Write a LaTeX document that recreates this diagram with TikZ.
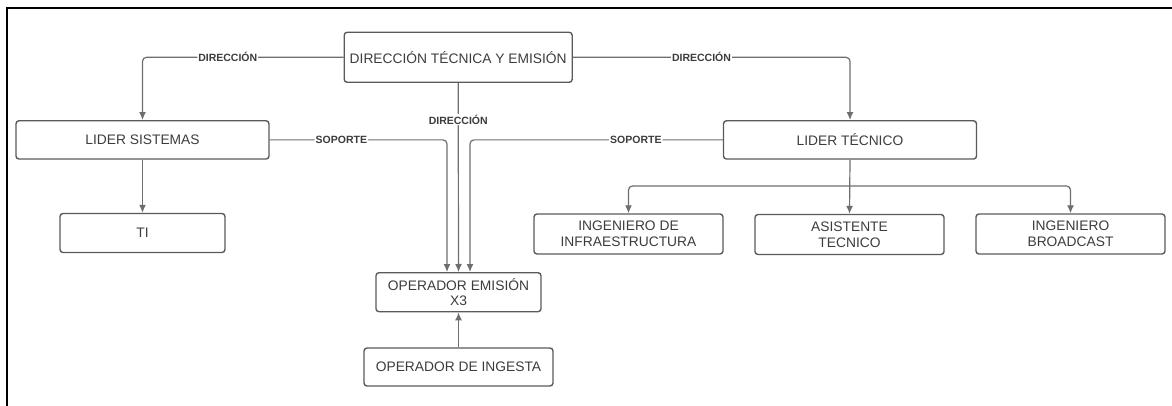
\documentclass[tikz,border=0pt]{standalone}
\usepackage{fontspec}
\setmainfont{Liberation Sans}
\usetikzlibrary{arrows.meta}

\definecolor{boxgray}{HTML}{5A5A5A}
\definecolor{linegray}{HTML}{6E6E6E}
\definecolor{textgray}{HTML}{3C3C3C}

\begin{document}
\begin{tikzpicture}[x=1pt, y=-1pt,
	box/.style={draw=boxgray, line width=1.4pt, rounded corners=3pt, rectangle,
		text=textgray, align=center, inner sep=0pt,
		font=\fontsize{13.8}{15.7}\selectfont},
	conn/.style={draw=linegray, line width=1.2pt, rounded corners=4pt, ->,
		>={Latex[length=8pt,width=7pt]}},
	lbl/.style={fill=white, text=textgray, inner sep=1pt,
		font=\fontsize{10.5}{12}\selectfont\bfseries}]
	\def \wide {189pt}
	\def \narrow {165pt}
	\def \tall {39pt}

	\useasboundingbox (0,0) rectangle (1172,406);
	\draw[line width=2pt] (7.3,406) -- (7.3,8.3) -- (1172,8.3);

	\node[box, minimum width=228pt, minimum height=50pt] (direccion) at (458.2,57.3)
		{DIRECCIÓN TÉCNICA Y EMISIÓN};
	\node[box, minimum width=253pt, minimum height=38.3pt] (lidersis) at (142.5,139.9)
		{LIDER SISTEMAS};
	\node[box, minimum width=253pt, minimum height=38.3pt] (lidertec) at (850,139.9)
		{LIDER TÉCNICO};
	\node[box, minimum width=\narrow, minimum height=\tall] (ti) at (142.5,233)
		{TI};
	\node[box, minimum width=\narrow, minimum height=\tall] (emision) at (458.5,292.2)
		{OPERADOR EMISIÓN\\X3};
	\node[box, minimum width=\wide, minimum height=38pt] (ingesta) at (458.5,367)
		{OPERADOR DE INGESTA};
	\node[box, minimum width=\wide, minimum height=40pt] (infra) at (628.5,234)
		{INGENIERO DE\\INFRAESTRUCTURA};
	\node[box, minimum width=\wide, minimum height=40pt] (asistente) at (849.5,234.5)
		{ASISTENTE\\TECNICO};
	\node[box, minimum width=\wide, minimum height=40pt] (broadcast) at (1070.5,234)
		{INGENIERO\\BROADCAST};

	\coordinate (branch) at (849.5,186);

	\draw[conn] (direccion.west) -| node[lbl, pos=0.288] {DIRECCIÓN} (lidersis.north);
	\draw[conn] (direccion.east) -| node[lbl, pos=0.232] {DIRECCIÓN} (lidertec.north);
	\draw[conn] (direccion.south) -- node[lbl, pos=0.193] {DIRECCIÓN} (emision.north);
	\draw[conn] (lidersis.east) -| node[lbl, pos=0.202] {SOPORTE} ([xshift=-11.5pt]emision.north);
	\draw[conn] (lidertec.west) -| node[lbl, pos=0.172] {SOPORTE} ([xshift=11.5pt]emision.north);
	\draw[conn] (lidersis.south) -- (ti.north);
	\draw[conn] (ingesta.north) -- (emision.south);

	\draw[conn] (lidertec.south) -- (asistente.north);
	\draw[conn] (branch) -| (infra.north);
	\draw[conn] (branch) -| (broadcast.north);
\end{tikzpicture}
\end{document}
